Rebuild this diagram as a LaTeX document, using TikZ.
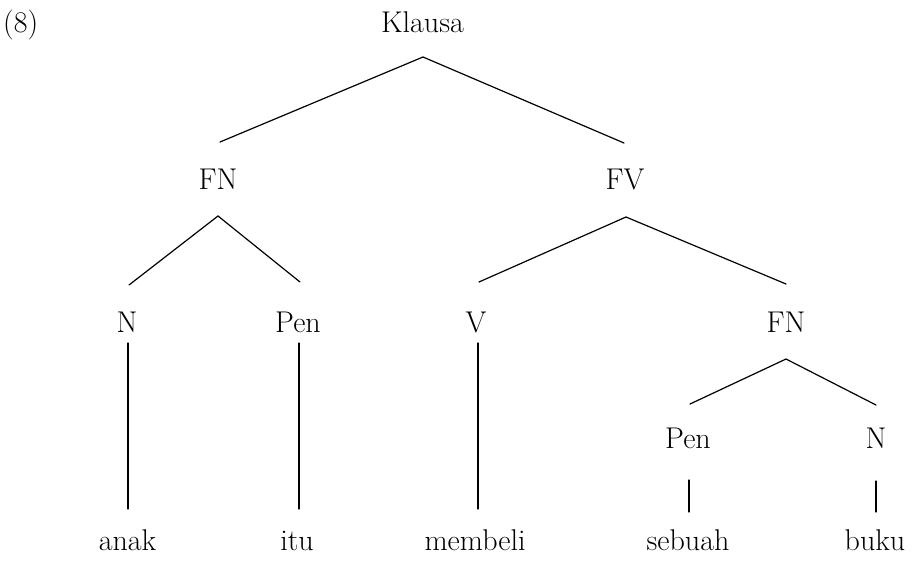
\documentclass[tikz,border=0pt]{standalone}
\usetikzlibrary{calc}
\tikzset{
  lbl/.style={anchor=base,inner sep=0pt,font=\fontsize{30}{32}\selectfont},
  edge/.style={line width=1.2pt,line cap=round}
}
\begin{document}
\begin{tikzpicture}[x=1pt,y=-1pt]
\useasboundingbox (0,0) rectangle (913,560);
% labels
\node[lbl,anchor=base west] (ex) at (3,32) {(8)};
\node[lbl] (kl) at (422.5,32) {Klausa};
\node[lbl] (fn1) at (218,189) {FN};
\node[lbl] (fv) at (625,189) {FV};
\node[lbl] (n1) at (127,332) {N};
\node[lbl] (pen1) at (298,332) {Pen};
\node[lbl] (v) at (476,332) {V};
\node[lbl] (fn2) at (786,332) {FN};
\node[lbl] (pen2) at (688,448) {Pen};
\node[lbl] (n2) at (876,448) {N};
\node[lbl] (anak) at (127.5,550) {anak};
\node[lbl] (itu) at (297,550) {itu};
\node[lbl] (membeli) at (475,550) {membeli};
\node[lbl] (sebuah) at (688,550) {sebuah};
\node[lbl] (buku) at (875,550) {buku};
% connectors
\draw[edge] ($(fn1.base)+(2,-47)$) -- ($(kl.base)+(0.5,25)$) -- ($(fv.base)+(-1,-46)$);
\draw[edge] ($(n1.base)+(2,-47)$) -- ($(fn1.base)+(0,27)$) -- ($(pen1.base)+(2,-50)$);
\draw[edge] ($(v.base)+(3,-50)$) -- ($(fv.base)+(1,28)$) -- ($(fn2.base)+(0,-48)$);
\draw[edge] ($(pen2.base)+(2,-44)$) -- ($(fn2.base)+(0,27)$) -- ($(n2.base)+(0,-43)$);
\draw[edge] ($(n1.base)+(1,11)$) -- ($(anak.base)+(0.5,-41)$);
\draw[edge] ($(pen1.base)+(1,11)$) -- ($(itu.base)+(2,-41)$);
\draw[edge] ($(v.base)+(2,11)$) -- ($(membeli.base)+(3,-41)$);
\draw[edge] ($(pen2.base)+(1,32)$) -- ($(sebuah.base)+(1,-38)$);
\draw[edge] ($(n2.base)+(0,33)$) -- ($(buku.base)+(1,-38)$);
\end{tikzpicture}
\end{document}
